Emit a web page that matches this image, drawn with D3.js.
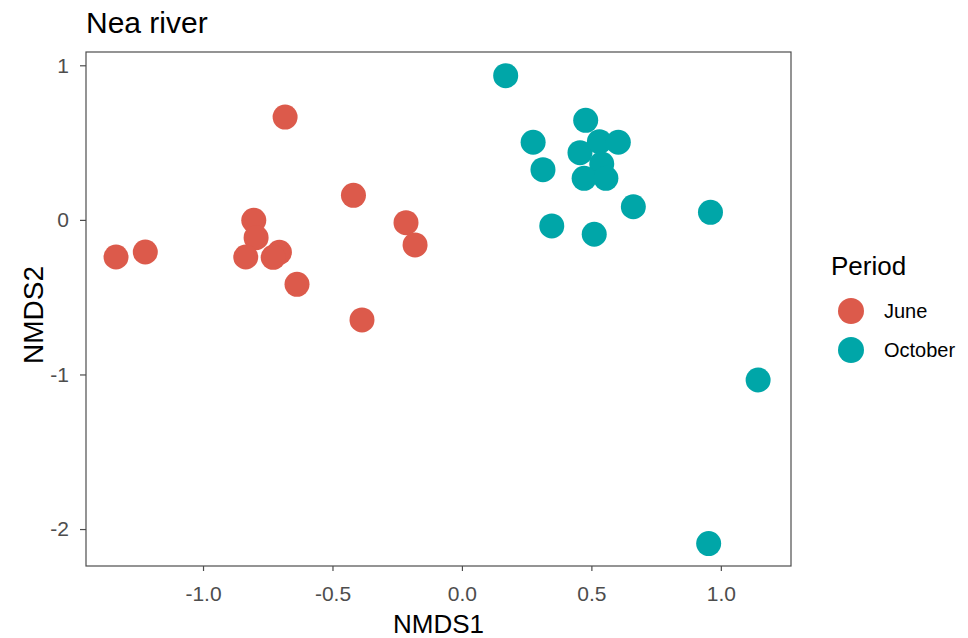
<!DOCTYPE html>
<html>
<head>
<meta charset="utf-8">
<script src="https://d3js.org/d3.v7.min.js"></script>
<style>
  body { margin: 0; background: #fff; }
  text { font-family: "Liberation Sans", Arial, sans-serif; }
</style>
</head>
<body>
<div id="scatter"></div>
<script>
// NMDS scores
var juneX = [-1.336, -1.223, -0.683, -0.419, -0.804, -0.795, -0.835, -0.705, -0.729, -0.637, -0.216, -0.181, -0.386];
var juneY = [-0.240, -0.208, 0.665, 0.159, -0.003, -0.115, -0.240, -0.210, -0.242, -0.417, -0.018, -0.162, -0.647];
var octX = [0.169, 0.478, 0.275, 0.313, 0.456, 0.531, 0.604, 0.540, 0.472, 0.556, 0.662, 0.960, 0.347, 0.511, 1.144, 0.953];
var octY = [0.933, 0.644, 0.502, 0.325, 0.435, 0.506, 0.502, 0.362, 0.269, 0.269, 0.085, 0.049, -0.039, -0.093, -1.036, -2.094];

var periods = ["June", "October"];
var colors = ["#dc5a4b", "#00a6a8"];
var xTicks = [-1.0, -0.5, 0.0, 0.5, 1.0];
var yTicks = [-2, -1, 0, 1];

// build one table of points for the scatter
var points = [];
juneX.forEach(function(v, i) { points.push({x: v, y: juneY[i], period: "June"}); });
octX.forEach(function(v, i) { points.push({x: v, y: octY[i], period: "October"}); });

var W = 968, H = 638;
var panel = {left: 86, right: 791, top: 52, bottom: 566};

var svg = d3.select("#scatter")
    .append("svg")
        .attr("width", W)
        .attr("height", H);

var xScale = d3.scaleLinear()
    .domain([-1.452, 1.271])
    .range([panel.left, panel.right]);

var yScale = d3.scaleLinear()
    .domain([-2.239, 1.086])
    .range([panel.bottom, panel.top]);

var color = d3.scaleOrdinal()
    .domain(periods)
    .range(colors);

// axes
var xAxis = svg.append("g")
    .attr("transform", "translate(0," + panel.bottom + ")")
    .call(d3.axisBottom(xScale).tickValues(xTicks).tickSize(5).tickPadding(15));
var yAxis = svg.append("g")
    .attr("transform", "translate(" + panel.left + ",0)")
    .call(d3.axisLeft(yScale).tickValues(yTicks).tickSize(6).tickPadding(11));

[xAxis, yAxis].forEach(function(a) {
  a.select(".domain").remove();
  a.selectAll(".tick line").attr("stroke", "#4d4d4d").attr("stroke-width", 1.2);
  a.selectAll(".tick text")
      .attr("fill", "#4d4d4d")
      .attr("font-size", "21px")
      .attr("font-family", "Liberation Sans, Arial, sans-serif");
});
// plain hyphen for negatives, like the original
xAxis.selectAll(".tick text").text(function(d) { return d.toFixed(1); });
yAxis.selectAll(".tick text").text(function(d) { return String(d); });

// panel border
svg.append("rect")
    .attr("x", panel.left)
    .attr("y", panel.top)
    .attr("width", panel.right - panel.left)
    .attr("height", panel.bottom - panel.top)
    .attr("fill", "none")
    .attr("stroke", "#4d4d4d")
    .attr("stroke-width", 1.2);

// points
svg.append("g")
    .selectAll("circle")
    .data(points)
    .enter()
    .append("circle")
        .attr("cx", function(d) { return xScale(d.x); })
        .attr("cy", function(d) { return yScale(d.y); })
        .attr("r", 12.5)
        .attr("fill", function(d) { return color(d.period); });

// titles
svg.append("text")
    .attr("x", panel.left)
    .attr("y", 33)
    .attr("font-size", "30px")
    .attr("fill", "#000")
    .text("Nea river");

svg.append("text")
    .attr("x", (panel.left + panel.right) / 2)
    .attr("y", 633)
    .attr("text-anchor", "middle")
    .attr("font-size", "26px")
    .attr("fill", "#000")
    .text("NMDS1");

svg.append("text")
    .attr("transform", "translate(43," + ((panel.top + panel.bottom) / 2 + 6) + ") rotate(-90)")
    .attr("text-anchor", "middle")
    .attr("font-size", "28px")
    .attr("fill", "#000")
    .text("NMDS2");

// legend
var legend = svg.append("g");
legend.append("text")
    .attr("x", 831)
    .attr("y", 275)
    .attr("font-size", "26px")
    .attr("fill", "#000")
    .text("Period");

var keys = legend.selectAll(".key")
    .data(periods)
    .enter()
    .append("g")
        .attr("class", "key")
        .attr("transform", function(d, i) { return "translate(851," + (311 + i * 39) + ")"; });
keys.append("circle")
    .attr("r", 13)
    .attr("fill", function(d) { return color(d); });
keys.append("text")
    .attr("x", 33)
    .attr("dy", "0.35em")
    .attr("font-size", "20px")
    .attr("fill", "#000")
    .text(function(d) { return d; });
</script>
</body>
</html>
